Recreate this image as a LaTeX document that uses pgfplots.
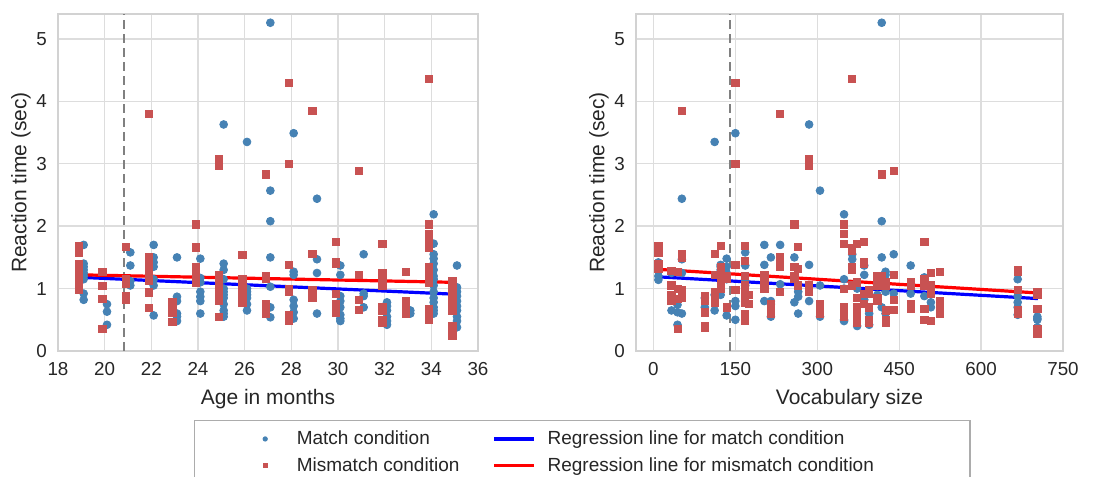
\documentclass[border=0pt]{standalone}
\usepackage{pgfplots}
\pgfplotsset{compat=1.18}
\usepackage{fontspec}
\setmainfont{Liberation Sans}
\definecolor{mblue}{RGB}{70,130,180}
\definecolor{mred}{RGB}{200,82,82}
\definecolor{gridc}{RGB}{221,221,221}
\definecolor{framec}{RGB}{210,210,210}
\definecolor{txt}{RGB}{38,38,38}
\definecolor{dashc}{RGB}{128,128,128}

\pgfplotsset{
  panel/.style={
    scale only axis, height=168.5pt, anchor=south west,
    ymin=0, ymax=5.4, ytick={0,1,2,3,4,5},
    grid=major, major grid style={gridc, line width=0.7pt},
    axis line style={framec, line width=0.7pt},
    major tick length=0pt,
    tick label style={font=\fontsize{9.4}{11}\selectfont, text=txt},
    yticklabel style={xshift=-2pt},
    xticklabel style={yshift=-2pt},
    label style={font=\fontsize{10.5}{12.5}\selectfont, text=txt},
    ylabel shift=-4pt,
    /pgf/number format/assume math mode=true,
    ylabel={Reaction time (sec)},
  },
  mpts/.style={only marks, mark=*, mark size=1.95pt, color=mblue, mark options={draw=mblue, fill=mblue}},
  mmpts/.style={only marks, mark=square*, mark size=1.8pt, color=mred, mark options={draw=mred, fill=mred}},
  regb/.style={blue, line width=1.6pt, no marks},
  regr/.style={red, line width=1.6pt, no marks},
  vdash/.style={dashc, line width=0.9pt, dash pattern=on 4.5pt off 2.5pt, no marks},
  legline/.style={legend image code/.code={\draw[##1] (0pt,0pt) -- (20pt,0pt); \path (24pt,0pt);}},
  legmark/.style={legend image code/.code={\path (0pt,0pt) (20pt,0pt); \draw[##1] plot coordinates {(6.5pt,0pt)};}},
}

\begin{document}
\begin{tikzpicture}
% ---------------- left panel ----------------
\begin{axis}[panel, at={(29pt,63pt)}, width=210pt,
  xmin=18, xmax=36, xtick={18,20,...,36},
  xlabel={Age in months},
  legend style={at={(0.3238,-0.2047)}, anchor=north west, draw=gray!65, line width=0.6pt,
    font=\fontsize{9.5}{11.4}\selectfont, text=txt, legend columns=2,
    /tikz/every even column/.append style={column sep=14.5pt},
    inner xsep=28.5pt, inner ysep=3pt, row sep=1pt},
  legend cell align=left]
\addlegendimage{only marks, mark=*, mark size=1.0pt, color=mblue, legmark}
\addlegendentry{Match condition}
\addlegendimage{blue, line width=1.6pt, legline}
\addlegendentry{Regression line for match condition}
\addlegendimage{only marks, mark=square*, mark size=0.95pt, color=mred, legmark}
\addlegendentry{Mismatch condition}
\addlegendimage{red, line width=1.6pt, legline}
\addlegendentry{Regression line for mismatch condition\hspace*{17.5pt}}

\addplot[mpts, forget plot] coordinates {
(19.1,1.70)(19.1,1.40)(19.1,1.35)(19.1,1.30)(19.1,1.25)(19.1,1.20)(19.1,1.15)(19.1,0.92)(19.1,0.82)
(20.1,0.75)(20.1,0.63)(20.1,0.42)
(21.1,1.58)(21.1,1.37)(21.1,1.12)(21.1,1.05)
(22.1,1.70)(22.1,1.50)(22.1,1.42)(22.1,1.35)(22.1,1.15)(22.1,1.05)(22.1,0.57)
(23.1,1.50)(23.1,0.87)(23.1,0.80)(23.1,0.60)(23.1,0.55)(23.1,0.48)
(24.1,1.48)(24.1,1.17)(24.1,1.10)(24.1,0.95)(24.1,0.87)(24.1,0.80)(24.1,0.60)
(25.1,3.63)(25.1,1.40)(25.1,1.30)(25.1,1.15)(25.1,1.00)(25.1,0.95)(25.1,0.90)(25.1,0.85)(25.1,0.75)(25.1,0.65)(25.1,0.60)(25.1,0.55)
(26.1,3.35)(26.1,1.00)(26.1,0.95)(26.1,0.90)(26.1,0.85)(26.1,0.75)(26.1,0.65)
(27.1,5.26)(27.1,2.57)(27.1,2.08)(27.1,1.50)(27.1,1.03)(27.1,0.70)(27.1,0.54)
(28.1,3.49)(28.1,1.27)(28.1,1.22)(28.1,0.82)(28.1,0.72)(28.1,0.62)(28.1,0.52)
(29.1,2.44)(29.1,1.47)(29.1,1.25)(29.1,0.60)
(30.1,1.37)(30.1,1.22)(30.1,0.88)(30.1,0.80)(30.1,0.70)(30.1,0.58)(30.1,0.52)(30.1,0.48)
(31.1,1.55)(31.1,0.92)(31.1,0.88)(31.1,0.70)
(32.1,0.78)(32.1,0.72)(32.1,0.65)(32.1,0.55)(32.1,0.48)(32.1,0.42)
(33.1,0.65)(33.1,0.60)
(34.1,2.19)(34.1,1.72)(34.1,1.55)(34.1,1.48)(34.1,1.40)(34.1,1.30)(34.1,1.20)(34.1,1.15)(34.1,1.05)(34.1,0.95)(34.1,0.85)(34.1,0.78)(34.1,0.70)(34.1,0.65)(34.1,0.60)
(35.1,1.37)(35.1,1.02)(35.1,0.95)(35.1,0.88)(35.1,0.80)(35.1,0.72)(35.1,0.65)(35.1,0.55)(35.1,0.48)(35.1,0.38)
};
\addplot[mmpts, forget plot] coordinates {
(18.9,1.68)(18.9,1.57)(18.9,1.40)(18.9,1.35)(18.9,1.30)(18.9,1.25)(18.9,1.20)(18.9,1.15)(18.9,1.10)(18.9,1.05)(18.9,0.98)
(19.9,1.27)(19.9,1.04)(19.9,0.84)(19.9,0.35)
(20.9,1.67)(20.9,1.15)(20.9,1.08)(20.9,0.88)(20.9,0.82)
(21.9,3.80)(21.9,1.50)(21.9,1.42)(21.9,1.34)(21.9,1.28)(21.9,1.20)(21.9,1.12)(21.9,0.94)(21.9,0.69)
(22.9,0.78)(22.9,0.70)(22.9,0.62)(22.9,0.46)
(23.9,2.03)(23.9,1.66)(23.9,1.35)(23.9,1.30)(23.9,1.20)(23.9,1.10)
(24.9,3.08)(24.9,3.02)(24.9,2.97)(24.9,1.22)(24.9,1.15)(24.9,1.05)(24.9,1.00)(24.9,0.95)(24.9,0.90)(24.9,0.85)(24.9,0.80)(24.9,0.55)
(25.9,1.54)(25.9,1.16)(25.9,1.10)(25.9,1.00)(25.9,0.95)(25.9,0.90)(25.9,0.85)(25.9,0.78)
(26.9,2.83)(26.9,1.20)(26.9,1.15)(26.9,0.75)(26.9,0.70)(26.9,0.65)(26.9,0.60)
(27.9,4.30)(27.9,3.00)(27.9,1.38)(27.9,1.00)(27.9,0.95)(27.9,0.58)(27.9,0.52)(27.9,0.48)
(28.9,3.85)(28.9,1.55)(28.9,0.98)(28.9,0.85)
(29.9,1.75)(29.9,1.43)(29.9,1.40)(29.9,0.92)(29.9,0.75)(29.9,0.68)(29.9,0.62)
(30.9,2.88)(30.9,1.22)(30.9,0.82)(30.9,0.66)
(31.9,1.72)(31.9,1.25)(31.9,1.20)(31.9,1.15)(31.9,1.10)(31.9,1.05)(31.9,0.70)(31.9,0.65)(31.9,0.50)(31.9,0.45)
(32.9,1.27)(32.9,0.80)(32.9,0.72)(32.9,0.65)(32.9,0.60)
(33.9,4.36)(33.9,2.03)(33.9,1.88)(33.9,1.80)(33.9,1.72)(33.9,1.65)(33.9,1.35)(33.9,1.28)(33.9,1.15)(33.9,1.10)(33.9,0.68)(33.9,0.60)(33.9,0.50)
(34.9,1.12)(34.9,1.05)(34.9,0.95)(34.9,0.90)(34.9,0.85)(34.9,0.78)(34.9,0.70)(34.9,0.65)(34.9,0.40)(34.9,0.35)(34.9,0.30)(34.9,0.25)
};
\addplot[vdash, forget plot] coordinates {(20.83,0) (20.83,5.4)};
\addplot[regb, forget plot] coordinates {(19,1.18) (35,0.91)};
\addplot[regr, forget plot] coordinates {(19,1.22) (35,1.10)};
\end{axis}

% ---------------- right panel ----------------
\begin{axis}[panel, at={(318pt,63pt)}, width=213.5pt,
  xmin=-32, xmax=750, xtick={0,150,...,750},
  xlabel={Vocabulary size}]
\addplot[mpts] coordinates {
(9,1.42)(9,1.35)(9,1.28)(9,1.20)(9,1.14)
(33,1.25)(33,0.65)
(44,0.74)(44,0.62)(44,0.42)
(52,2.44)(52,1.47)(52,1.25)(52,0.60)
(94,0.85)(94,0.70)
(112,3.35)(112,0.90)(112,0.65)
(123,1.38)(123,1.35)(123,1.30)(123,0.90)
(134,1.48)(134,1.35)(134,1.25)(134,1.15)(134,0.57)
(150,3.49)(150,0.80)(150,0.72)(150,0.50)
(168,1.58)(168,1.37)(168,1.12)(168,1.05)(168,0.80)
(203,1.70)(203,1.38)(203,0.80)
(215,1.50)(215,0.80)(215,0.75)(215,0.55)
(232,1.70)(232,1.07)
(258,1.50)(258,0.78)
(265,0.95)(265,0.87)(265,0.60)
(285,3.63)(285,1.38)(285,0.80)
(305,2.57)(305,1.05)(305,0.55)
(349,2.19)(349,1.15)(349,1.00)(349,0.50)(349,0.48)
(364,1.55)(364,1.47)
(373,1.00)(373,0.40)
(386,1.37)(386,1.22)(386,0.88)(386,0.82)
(395,0.60)(395,0.42)
(410,0.90)
(418,5.26)(418,2.08)(418,1.50)(418,1.05)(418,0.70)
(425,1.27)(425,1.22)(425,0.95)(425,0.60)
(440,1.55)(440,0.92)
(471,1.37)(471,0.92)
(496,1.18)(496,0.88)
(508,0.78)(508,0.70)
(667,1.15)(667,0.88)(667,0.78)(667,0.70)(667,0.58)
(703,0.55)(703,0.52)(703,0.50)(703,0.38)(703,0.32)
};
\addplot[mmpts] coordinates {
(9,1.68)(9,1.57)(9,1.40)(9,1.32)
(33,1.28)(33,1.05)(33,0.90)(33,0.80)
(44,1.27)(44,1.00)(44,0.83)(44,0.35)
(52,3.85)(52,1.55)(52,1.50)(52,0.98)(52,0.85)
(94,0.88)(94,0.80)(94,0.62)(94,0.40)(94,0.37)
(112,1.55)(112,1.22)(112,0.95)(112,0.90)(112,0.85)(112,0.78)
(123,1.68)(123,1.35)(123,1.22)(123,1.15)(123,1.05)(123,1.00)
(134,1.20)(134,1.15)(134,0.70)
(150,4.30)(150,3.00)(150,1.38)(150,0.98)
(168,1.68)(168,1.45)(168,1.20)(168,1.05)(168,1.00)(168,0.95)(168,0.90)(168,0.85)(168,0.78)(168,0.60)(168,0.48)
(175,0.90)(175,0.75)
(203,1.22)(203,1.15)(203,1.05)(203,1.00)
(215,0.75)(215,0.65)(215,0.60)
(232,3.80)(232,1.50)(232,1.42)(232,1.35)(232,0.95)
(258,2.03)(258,1.35)(258,1.20)(258,1.15)
(265,1.67)(265,1.32)(265,1.05)
(285,3.08)(285,3.02)(285,2.97)(285,1.05)(285,0.95)
(305,0.75)(305,0.70)(305,0.65)(305,0.60)
(349,2.03)(349,1.88)(349,1.72)(349,1.00)(349,0.70)(349,0.65)(349,0.60)(349,0.55)
(364,4.36)(364,1.65)(364,1.60)(364,1.35)(364,1.30)(364,1.05)
(373,1.72)(373,1.10)(373,0.85)(373,0.70)(373,0.60)(373,0.50)(373,0.45)
(386,1.75)(386,1.43)(386,1.40)(386,0.92)(386,0.75)
(395,0.98)(395,0.92)(395,0.70)(395,0.50)(395,0.45)
(410,1.20)(410,1.15)(410,1.10)(410,1.05)(410,0.85)(410,0.80)
(418,2.83)(418,1.20)(418,1.15)
(425,1.10)(425,1.05)(425,0.65)(425,0.50)(425,0.45)
(440,2.88)(440,1.22)(440,0.82)(440,0.66)
(471,1.10)(471,1.05)(471,0.75)(471,0.68)
(496,1.75)(496,1.15)(496,1.05)(496,0.68)(496,0.50)
(508,1.25)(508,1.05)(508,0.92)(508,0.48)
(524,1.27)(524,0.80)(524,0.72)(524,0.65)(524,0.60)
(667,1.30)(667,1.27)(667,0.98)(667,0.65)(667,0.60)
(703,0.95)(703,0.90)(703,0.68)(703,0.35)(703,0.30)(703,0.27)
};
\addplot[vdash] coordinates {(140,0) (140,5.4)};
\addplot[regb] coordinates {(6,1.19) (704,0.84)};
\addplot[regr] coordinates {(6,1.31) (704,0.93)};
\end{axis}
\pgfresetboundingbox
\useasboundingbox (0pt,0pt) rectangle (555pt,238.5pt);
\end{tikzpicture}
\end{document}
